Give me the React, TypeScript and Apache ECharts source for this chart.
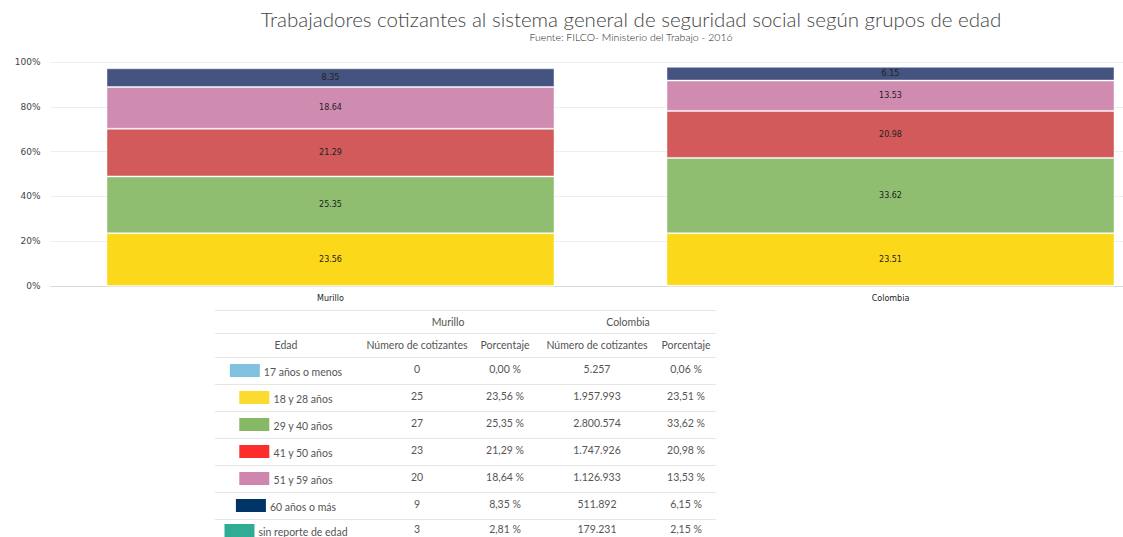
import React, { useEffect, useRef } from "react";
import * as echarts from "echarts";

// ---- data ----
const categories = ["Murillo", "Colombia"];
const ageGroups = [
  "17 años o menos",
  "18 y 28 años",
  "29 y 40 años",
  "41 y 50 años",
  "51 y 59 años",
  "60 años o más",
  "sin reporte de edad",
];
const murilloCount = [0, 25, 27, 23, 20, 9, 3];
const murilloPct = [0.0, 23.56, 25.35, 21.29, 18.64, 8.35, 2.81];
const colombiaCount = [5257, 1957993, 2800574, 1747926, 1126933, 511892, 179231];
const colombiaPct = [0.06, 23.51, 33.62, 20.98, 13.53, 6.15, 2.15];
const chartGroupCount = 6; // "sin reporte de edad" is not drawn in the bars
const tableRegions = ["Murillo", "Colombia"];
const tableHeaders = ["Edad", "Número de cotizantes", "Porcentaje", "Número de cotizantes", "Porcentaje"];

const barColors = ["#85c1e3", "#fcd81a", "#8fbe71", "#d25a5a", "#d08bb1", "#44537f"];
const legendColors = ["#80c1e0", "#fbdb2f", "#86b963", "#fc2d2d", "#cf85ae", "#003366", "#30ac94"];

const TITLE = "Trabajadores cotizantes al sistema general de seguridad social según grupos de edad";
const SUBTITLE = "Fuente: FILCO- Ministerio del Trabajo - 2016";

function fmtThousands(n: number): string {
  return String(n).replace(/\B(?=(\d{3})+(?!\d))/g, ".");
}
function fmtPct(n: number): string {
  return n.toFixed(2).replace(".", ",") + " %";
}

export default function App() {
  const ref = useRef<HTMLDivElement>(null);

  useEffect(() => {
    document.body.style.margin = "0";
    if (!ref.current) return;
    const chart = echarts.init(ref.current, undefined, { renderer: "svg" });

    const tableFont = "Lato, 'Noto Sans', sans-serif";
    const tableColor = "#555";
    const tLeft = 215;
    const tRight = 716;
    const tTop = 310;
    const headH = [23, 24];
    const rowH = 27;
    const colX = [286, 417, 505, 597, 686];
    const regionX = [448, 628];

    const graphics: any[] = [];
    const lineYs: number[] = [tTop, tTop + headH[0], tTop + headH[0] + headH[1]];
    for (let i = 1; i < ageGroups.length; i++) lineYs.push(tTop + headH[0] + headH[1] + i * rowH);
    lineYs.forEach((y) => {
      graphics.push({
        type: "line",
        shape: { x1: tLeft, y1: y + 0.5, x2: tRight, y2: y + 0.5 },
        style: { stroke: "#e6e6e6", lineWidth: 1 },
        silent: true,
      });
    });
    tableRegions.forEach((r, i) => {
      graphics.push({
        type: "text",
        x: regionX[i],
        y: tTop + headH[0] / 2,
        style: { text: r, fontSize: 10.5, fontFamily: tableFont, fill: tableColor, align: "center", verticalAlign: "middle" },
      });
    });
    tableHeaders.forEach((h, i) => {
      graphics.push({
        type: "text",
        x: colX[i],
        y: tTop + headH[0] + headH[1] / 2,
        style: { text: h, fontSize: 10.5, fontFamily: tableFont, fill: tableColor, align: "center", verticalAlign: "middle" },
      });
    });
    const rich: any = {
      t: { fontSize: 10.5, fontFamily: tableFont, fill: tableColor, padding: [0, 0, 0, 4], verticalAlign: "bottom" },
    };
    legendColors.forEach((c, i) => {
      rich["sw" + i] = { width: 30, height: 13, backgroundColor: c, verticalAlign: "bottom" };
    });
    ageGroups.forEach((g, i) => {
      const cy = tTop + headH[0] + headH[1] + i * rowH + rowH / 2 - (i === ageGroups.length - 1 ? 2 : 0);
      graphics.push({
        type: "text",
        x: colX[0],
        y: cy,
        style: {
          text: "{sw" + i + "|}{t|" + g + "}",
          rich,
          align: "center",
          verticalAlign: "middle",
        },
      });
      const cells = [String(murilloCount[i]), fmtPct(murilloPct[i]), fmtThousands(colombiaCount[i]), fmtPct(colombiaPct[i])];
      cells.forEach((txt, j) => {
        graphics.push({
          type: "text",
          x: colX[j + 1],
          y: cy - 2,
          style: { text: txt, fontSize: 10.5, fontFamily: tableFont, fill: tableColor, align: "center", verticalAlign: "middle" },
        });
      });
    });

    const series = ageGroups.slice(0, chartGroupCount).map((g, i) => ({
      name: g,
      type: "bar",
      stack: "total",
      barWidth: "80%",
      data: [murilloPct[i], colombiaPct[i]],
      itemStyle: { color: barColors[i], borderColor: "rgba(255,255,255,0.45)", borderWidth: 1 },
      label: {
        show: i > 0,
        position: "inside",
        formatter: (p: any) => Number(p.value).toFixed(2),
        fontSize: 8,
        fontFamily: "'DejaVu Sans', sans-serif",
        color: "#222",
      },
    }));

    chart.setOption({
      animation: false,
      backgroundColor: "#fff",
      title: {
        text: TITLE,
        subtext: SUBTITLE,
        left: 626,
        top: 3,
        textAlign: "center",
        itemGap: 2,
        textStyle: { fontSize: 20.5, fontWeight: 300, fontFamily: "Lato, 'Noto Sans', sans-serif", color: "#444" },
        subtextStyle: { fontSize: 10.5, fontWeight: 300, fontFamily: "Lato, 'Noto Sans', sans-serif", color: "#222" },
      },
      grid: { left: 50.5, right: 0.5, top: 62, bottom: 251, containLabel: false },
      xAxis: {
        type: "category",
        data: categories,
        axisLine: { lineStyle: { color: "#d8d8d8" } },
        axisTick: { show: false },
        axisLabel: { fontSize: 8, fontFamily: "'DejaVu Sans', sans-serif", color: "#222", margin: 8 },
      },
      yAxis: {
        type: "value",
        min: 0,
        max: 100,
        interval: 20,
        axisLine: { show: false },
        axisTick: { show: false },
        axisLabel: { formatter: "{value}%", fontSize: 9, fontFamily: "'DejaVu Sans', sans-serif", color: "#444", margin: 10 },
        splitLine: { lineStyle: { color: "#eeeeee" } },
      },
      series,
      graphic: graphics,
    });

    return () => chart.dispose();
  }, []);

  return (
    <div style={{ width: 1123, height: 537, overflow: "hidden", position: "relative" }}>
      <div ref={ref} style={{ width: 1171, height: 537 }} />
    </div>
  );
}
